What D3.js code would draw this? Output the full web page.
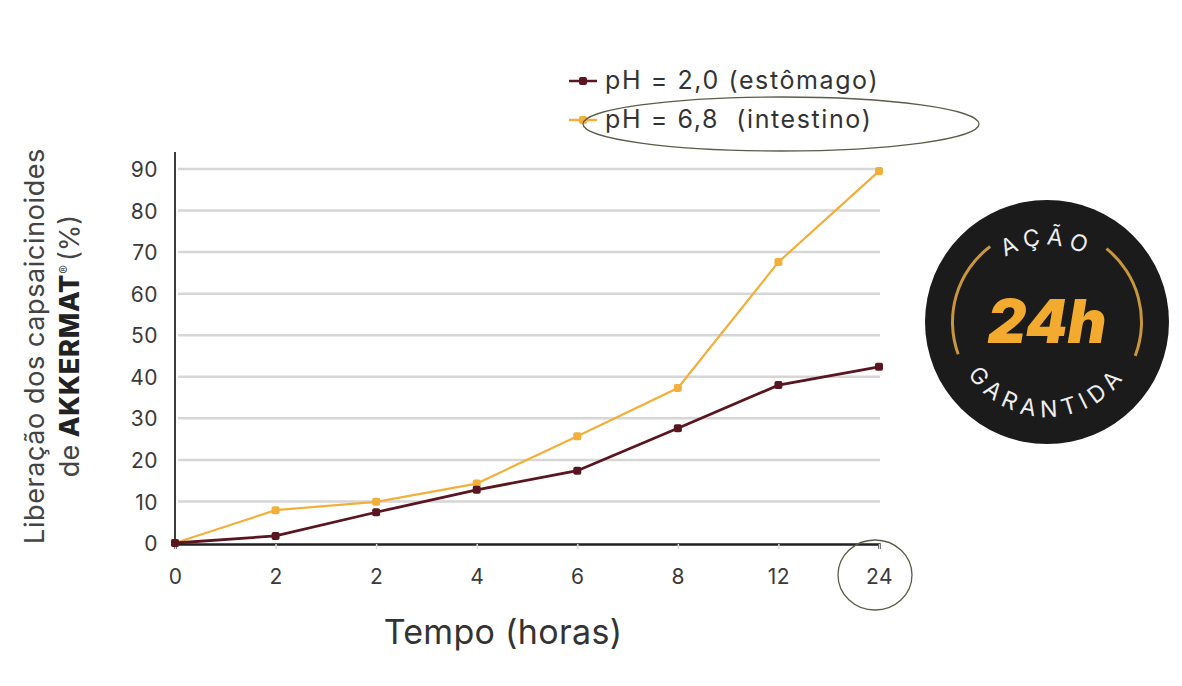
<!DOCTYPE html>
<html><head><meta charset="utf-8">
<script src="https://cdn.jsdelivr.net/npm/d3@7"></script>
<style>body{margin:0;background:#fff;}svg{display:block;}text{font-family:Inter,"Open Sans",sans-serif;}</style>
</head><body>
<svg id="c" width="1182" height="686"></svg>
<script>
const categories = ["0","2","2 ","4","6","8","12","24"];
const tickLabels = ["0","2","2","4","6","8","12","24"];
const stomach = [0, 1.7, 7.4, 12.8, 17.4, 27.6, 38.0, 42.4];
const intestine = [0, 7.9, 9.9, 14.3, 25.7, 37.3, 67.6, 89.5];
const yTicks = [0,10,20,30,40,50,60,70,80,90];
const seriesNames = ["pH = 2,0 (estômago)", "pH = 6,8  (intestino)"];
const colors = ["#5a1620", "#f2b03a"];

const svg = d3.select("#c");
const x = d3.scalePoint().domain(categories).range([175, 879]);
const y = d3.scaleLinear().domain([0, 90]).range([543, 169]);

// gridlines
svg.append("g").selectAll("line").data(yTicks.slice(1)).join("line")
  .attr("x1", 178).attr("x2", 880)
  .attr("y1", d => y(d)).attr("y2", d => y(d))
  .attr("stroke", "#d6d6d6").attr("stroke-width", 2.5);

// y axis
const yAxis = svg.append("g").attr("transform", "translate(175,0)")
  .call(d3.axisLeft(y).tickValues(yTicks).tickSize(0).tickPadding(17));
yAxis.select(".domain").remove();
yAxis.selectAll("text").attr("font-size", 21).attr("fill", "#3a3a3a").attr("dy", "0.36em").attr("letter-spacing", 0.5);
svg.append("line").attr("x1", 175).attr("x2", 175).attr("y1", 152).attr("y2", 545)
  .attr("stroke", "#3d3d3d").attr("stroke-width", 2);

// x axis
const xAxis = svg.append("g").attr("transform", "translate(0,544)")
  .call(d3.axisBottom(x).tickSize(5).tickPadding(20).tickFormat((d, i) => tickLabels[i]));
xAxis.select(".domain").attr("stroke", "#222").attr("stroke-width", 2.5);
xAxis.selectAll(".tick line").attr("stroke", "#ddd").attr("stroke-width", 1.5);
xAxis.selectAll("text").attr("font-size", 21).attr("fill", "#3a3a3a").attr("letter-spacing", 0.5);

// lines
const series = [stomach, intestine];
const line = d3.line().x((d, i) => x(categories[i])).y(d => y(d));
[1, 0].forEach(s => {
  svg.append("path").datum(series[s]).attr("d", line)
    .attr("fill", "none").attr("stroke", colors[s]).attr("stroke-width", s === 0 ? 2.8 : 2.2);
  svg.append("g").selectAll("rect").data(series[s]).join("rect")
    .attr("x", (d, i) => x(categories[i]) - 4).attr("y", d => y(d) - 4)
    .attr("width", 8).attr("height", 8).attr("rx", 2)
    .attr("fill", colors[s]);
});

// axis titles
svg.append("text").attr("x", 503).attr("y", 644).attr("text-anchor", "middle")
  .attr("font-size", 34).attr("letter-spacing", 0.3).attr("fill", "#333").text("Tempo (horas)");
const yt = svg.append("g").attr("transform", "translate(0,346) rotate(-90)");
yt.append("text").attr("x", 0).attr("y", 44).attr("text-anchor", "middle")
  .attr("font-size", 27).attr("fill", "#444").attr("letter-spacing", 0.6).text("Liberação dos capsaicinoides");
const l2 = yt.append("text").attr("x", 0).attr("y", 79).attr("text-anchor", "middle")
  .attr("font-size", 27).attr("fill", "#444");
l2.append("tspan").text("de ");
l2.append("tspan").attr("font-weight", 800).attr("fill", "#222").attr("letter-spacing", 0.8).text("AKKERMAT");
l2.append("tspan").attr("font-size", 13).attr("dy", -10).text("®");
l2.append("tspan").attr("dy", 10).attr("dx", 4).text("(%)");

// legend
const legY = [81, 120];
seriesNames.forEach((n, i) => {
  svg.append("line").attr("x1", 569).attr("x2", 597).attr("y1", legY[i]).attr("y2", legY[i])
    .attr("stroke", colors[i]).attr("stroke-width", 2.5);
  svg.append("rect").attr("x", 579).attr("y", legY[i] - 4).attr("width", 8).attr("height", 8)
    .attr("rx", 2).attr("fill", colors[i]);
  svg.append("text").attr("x", 605).attr("y", legY[i] + 8).attr("font-size", 25)
    .attr("letter-spacing", 1.6)
    .attr("fill", "#333").attr("xml:space", "preserve").text(n);
});

// annotations
svg.append("ellipse").attr("cx", 781).attr("cy", 124).attr("rx", 198).attr("ry", 27)
  .attr("fill", "none").attr("stroke", "#5c5c48").attr("stroke-width", 1.3);
svg.append("ellipse").attr("cx", 875).attr("cy", 575).attr("rx", 37).attr("ry", 35)
  .attr("fill", "none").attr("stroke", "#5c5c48").attr("stroke-width", 1.3);

// badge
const cx = 1047, cy = 322;
const b = svg.append("g").attr("transform", `translate(${cx},${cy})`);
b.append("circle").attr("r", 122).attr("fill", "#1b1b1b");
const arc = d3.arc().innerRadius(93).outerRadius(96);
b.append("path").attr("d", arc({startAngle: 250 * Math.PI / 180, endAngle: 323 * Math.PI / 180})).attr("fill", "#c8963c");
b.append("path").attr("d", arc({startAngle: 39 * Math.PI / 180, endAngle: 111 * Math.PI / 180})).attr("fill", "#c8963c");
const defs = svg.append("defs");
const rt = 77;
defs.append("path").attr("id", "topArc")
  .attr("d", `M ${cx - rt} ${cy} A ${rt} ${rt} 0 0 1 ${cx + rt} ${cy}`);
const rb = 95;
defs.append("path").attr("id", "botArc")
  .attr("d", `M ${cx - rb} ${cy} A ${rb} ${rb} 0 0 0 ${cx + rb} ${cy}`);
svg.append("text").attr("font-size", 23).attr("fill", "#eee").attr("letter-spacing", 6)
  .append("textPath").attr("href", "#topArc").attr("startOffset", "50%").attr("text-anchor", "middle").text("AÇÃO");
svg.append("text").attr("font-size", 23).attr("fill", "#eee").attr("letter-spacing", 6)
  .append("textPath").attr("href", "#botArc").attr("startOffset", "50%").attr("text-anchor", "middle").text("GARANTIDA");
b.append("text").attr("x", 0).attr("y", 21).attr("text-anchor", "middle")
  .attr("font-size", 60).attr("font-weight", 900).attr("font-style", "italic")
  .attr("fill", "#f2ab2e").text("24h");
</script>
</body></html>
